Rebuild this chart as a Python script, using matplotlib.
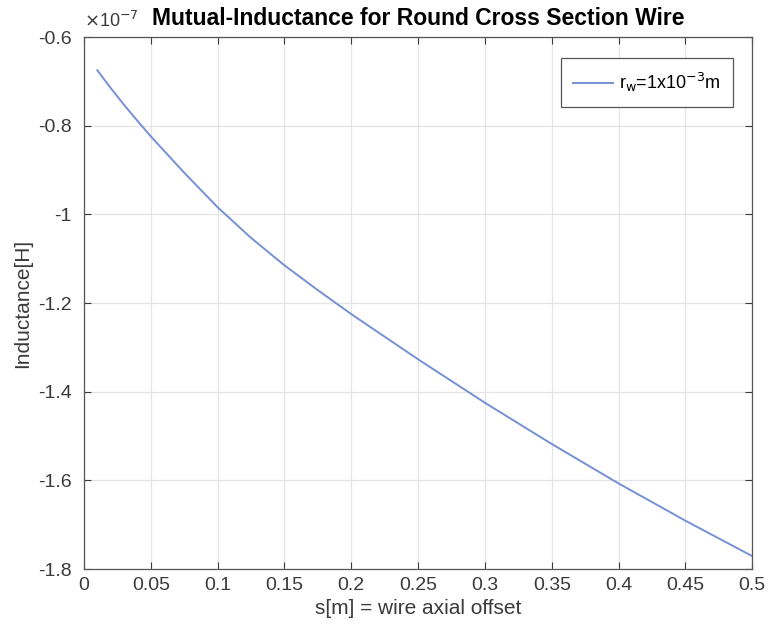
import numpy as np
import matplotlib
matplotlib.use("Agg")
import matplotlib.pyplot as plt

plt.rcParams['font.family'] = ['Liberation Sans', 'DejaVu Sans']
plt.rcParams['axes.unicode_minus'] = False

# axial offset s [m] and mutual inductance (in units of 1e-7 H)
s_offset = [0.01, 0.02, 0.03, 0.04, 0.05, 0.075, 0.1, 0.125, 0.15,
            0.175, 0.2, 0.25, 0.3, 0.35, 0.4, 0.45, 0.5]
inductance = [-0.675, -0.715, -0.753, -0.789, -0.824, -0.906, -0.984,
              -1.053, -1.115, -1.171, -1.225, -1.327, -1.425, -1.518,
              -1.607, -1.691, -1.771]
x_ticks = [0, 0.05, 0.1, 0.15, 0.2, 0.25, 0.3, 0.35, 0.4, 0.45, 0.5]
x_tick_labels = ['0', '0.05', '0.1', '0.15', '0.2', '0.25', '0.3',
                 '0.35', '0.4', '0.45', '0.5']
y_ticks = [-1.8, -1.6, -1.4, -1.2, -1.0, -0.8, -0.6]
y_tick_labels = ['-1.8', '-1.6', '-1.4', '-1.2', '-1', '-0.8', '-0.6']

fig = plt.figure(figsize=(7.7, 6.36), dpi=100)
ax = fig.add_axes([0.109, 0.1053, 0.868, 0.8365])

ax.plot(s_offset, inductance, color='#7590d4', linewidth=1.4,
        label=r'r$_{\rm w}$=1x10$^{-3}$m')

ax.set_xlim(0, 0.5)
ax.set_ylim(-1.8, -0.6)
ax.set_xticks(x_ticks)
ax.set_xticklabels(x_tick_labels)
ax.set_yticks(y_ticks)
ax.set_yticklabels(y_tick_labels)
ax.tick_params(direction='in', top=True, right=True, labelsize=14,
               colors='#3a3a3a', length=5, width=0.8)
ax.tick_params(axis='y', pad=9)
ax.tick_params(axis='x', pad=6)
ax.grid(True, color='#e4e4e4', linewidth=0.9)
ax.set_axisbelow(True)
for sp in ax.spines.values():
    sp.set_color('#555555')
    sp.set_linewidth(0.9)

ax.set_xlabel('s[m] = wire axial offset', fontsize=15, color='#3a3a3a',
              labelpad=3)
ax.set_ylabel('Inductance[H]', fontsize=15, color='#3a3a3a', labelpad=4)
ax.set_title('Mutual-Inductance for Round Cross Section Wire',
             fontsize=16.5, fontweight='bold', pad=9)
ax.text(0.0, 1.012, r'$\times$10$^{-7}$', transform=ax.transAxes,
        fontsize=13, color='#3a3a3a', ha='left', va='bottom')

leg = ax.legend(loc='upper right', fontsize=13, fancybox=False,
                framealpha=1, edgecolor='#555555', handlelength=2.2,
                handletextpad=0.3, borderpad=0.7, borderaxespad=0,
                bbox_to_anchor=(0.971, 0.96))
leg.get_frame().set_linewidth(0.9)

fig.savefig('out.png', dpi=100)
